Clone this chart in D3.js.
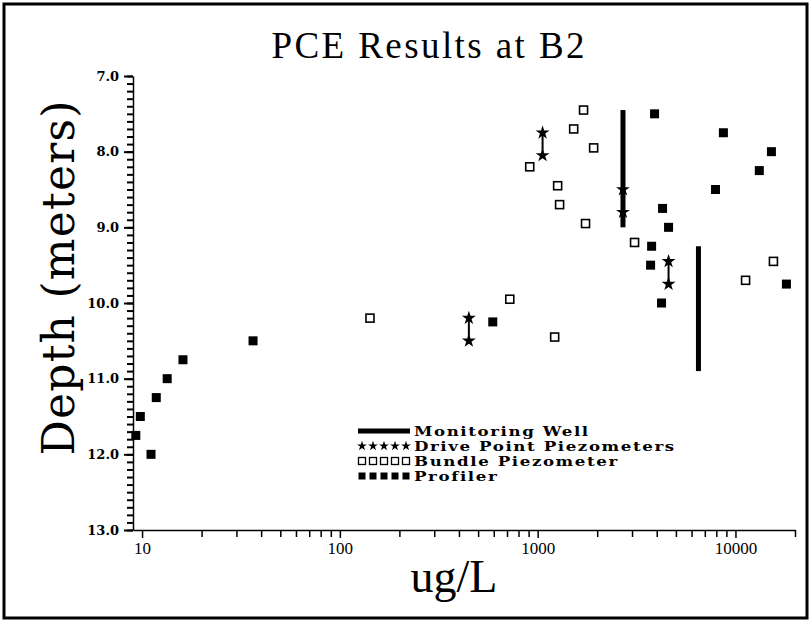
<!DOCTYPE html>
<meta charset="utf-8">
<style>
body { margin: 0; background: #fff; }
.axis path, .axis line { stroke: #000; }
</style>
<body>
<script src="https://d3js.org/d3.v7.min.js"></script>
<script>
// ---- data (ug/L, depth in meters) ----
var profilerConc  = [9.3, 9.8, 11.1, 11.8, 13.4, 16.1, 36.4, 593, 3724, 3768, 3900, 4230, 4280, 4590, 7925, 8690, 13200, 15200, 18100];
var profilerDepth = [11.75, 11.5, 12.0, 11.25, 11.0, 10.75, 10.5, 10.25, 9.5, 9.25, 7.5, 10.0, 8.75, 9.0, 8.5, 7.75, 8.25, 8.0, 9.75];

var bundleConc  = [142, 723, 912, 1219, 1262, 1291, 1521, 1706, 1746, 1919, 3090, 11250, 15560];
var bundleDepth = [10.2, 9.95, 8.2, 10.45, 8.45, 8.7, 7.7, 7.45, 8.95, 7.95, 9.2, 9.7, 9.45];

// drive point piezometers come in pairs (top, bottom)
var driveConc   = [449, 1059, 2700, 4590];
var driveTop    = [10.2, 7.75, 8.5, 9.45];
var driveBottom = [10.5, 8.05, 8.8, 9.75];

// monitoring wells: screened interval
var wellConc   = [2700, 6500];
var wellTop    = [7.45, 9.25];
var wellBottom = [9.0, 10.9];

var xMajor = [10, 100, 1000, 10000];
var xMinor = [20, 30, 40, 50, 60, 70, 80, 90, 200, 300, 400, 500, 600, 700, 800, 900,
              2000, 3000, 4000, 5000, 6000, 7000, 8000, 9000, 20000];
var yMajor = [7, 8, 9, 10, 11, 12, 13];
var yMinor = d3.range(70, 131).map(function(d) { return d / 10; });

var legendLabels = ["Monitoring Well", "Drive Point Piezometers", "Bundle Piezometer", "Profiler"];

// ---- layout ----
var W = 811, H = 622;
var pLeft = 133, pRight = 795, pTop = 76, pBottom = 530;

var svg = d3.select("body").append("svg")
    .attr("width", W)
    .attr("height", H);

// outer frame
svg.append("rect")
    .attr("x", 4).attr("y", 4)
    .attr("width", W - 8).attr("height", H - 8)
    .attr("fill", "none")
    .attr("stroke", "#000")
    .attr("stroke-width", 3);

var x = d3.scaleLog().domain([9, 20000]).range([pLeft, pRight]);
var y = d3.scaleLinear().domain([7, 13]).range([pTop, pBottom]);

// y axis: minor ticks every 0.1, labelled majors
svg.append("g")
    .attr("class", "axis")
    .attr("transform", "translate(" + pLeft + ",0)")
    .call(d3.axisLeft(y).tickValues(yMinor).tickSize(6).tickSizeOuter(0).tickFormat(""))
    .call(function(g) { g.selectAll(".tick line").attr("stroke-width", 2); g.select(".domain").attr("stroke-width", 1.5); });

svg.append("g")
    .attr("class", "axis")
    .attr("transform", "translate(" + pLeft + ",0)")
    .call(d3.axisLeft(y).tickValues(yMajor).tickSize(9).tickSizeOuter(0).tickPadding(5).tickFormat(d3.format(".1f")))
    .call(function(g) {
      g.select(".domain").remove();
      g.selectAll(".tick line").attr("stroke-width", 2);
      g.selectAll("text")
        .attr("font-family", "DejaVu Serif")
        .attr("font-weight", "bold")
        .attr("font-size", 13)
        .attr("fill", "#000");
    });

// x axis
svg.append("g")
    .attr("class", "axis")
    .attr("transform", "translate(0," + pBottom + ")")
    .call(d3.axisBottom(x).tickValues(xMinor).tickSize(7).tickSizeOuter(0).tickFormat(""))
    .call(function(g) { g.selectAll(".tick line").attr("stroke-width", 1.5); g.select(".domain").attr("stroke-width", 1.5); });

svg.append("g")
    .attr("class", "axis")
    .attr("transform", "translate(0," + pBottom + ")")
    .call(d3.axisBottom(x).tickValues(xMajor).tickSize(8).tickSizeOuter(0).tickPadding(4).tickFormat(d3.format("d")))
    .call(function(g) {
      g.select(".domain").remove();
      g.selectAll(".tick line").attr("stroke-width", 1.5);
      g.selectAll("text")
        .attr("font-family", "Liberation Serif")
        .attr("font-size", 17)
        .attr("fill", "#000");
    });

// titles
svg.append("text")
    .attr("x", 428).attr("y", 58)
    .attr("text-anchor", "middle")
    .attr("font-family", "Liberation Serif")
    .attr("font-size", 37)
    .attr("textLength", 313)
    .attr("lengthAdjust", "spacing")
    .text("PCE Results at B2");

svg.append("text")
    .attr("transform", "translate(74,278) rotate(-90)")
    .attr("text-anchor", "middle")
    .attr("font-family", "DejaVu Serif")
    .attr("font-size", 44)
    .attr("textLength", 355)
    .attr("lengthAdjust", "spacing")
    .text("Depth (meters)");

svg.append("text")
    .attr("x", 454).attr("y", 592)
    .attr("text-anchor", "middle")
    .attr("font-family", "Liberation Serif")
    .attr("font-size", 46)
    .text("ug/L");

// ---- marks ----
var plot = svg.append("g");

// monitoring wells
plot.selectAll(".well")
    .data(wellConc)
    .enter().append("line")
    .attr("x1", function(d) { return x(d); })
    .attr("x2", function(d) { return x(d); })
    .attr("y1", function(d, i) { return y(wellTop[i]); })
    .attr("y2", function(d, i) { return y(wellBottom[i]); })
    .attr("stroke", "#000")
    .attr("stroke-width", 5);

// drive point piezometers
plot.selectAll(".drive")
    .data(driveConc)
    .enter().append("line")
    .attr("x1", function(d) { return x(d); })
    .attr("x2", function(d) { return x(d); })
    .attr("y1", function(d, i) { return y(driveTop[i]); })
    .attr("y2", function(d, i) { return y(driveBottom[i]); })
    .attr("stroke", "#000")
    .attr("stroke-width", 2);

var star = d3.symbol().type(d3.symbolStar).size(60);
var starPts = [];
driveConc.forEach(function(c, i) {
  starPts.push([c, driveTop[i]]);
  starPts.push([c, driveBottom[i]]);
});
plot.selectAll(".star")
    .data(starPts)
    .enter().append("path")
    .attr("d", star)
    .attr("transform", function(d) { return "translate(" + x(d[0]) + "," + y(d[1]) + ")"; })
    .attr("fill", "#000");

// bundle piezometer (open squares)
plot.selectAll(".bundle")
    .data(bundleConc)
    .enter().append("rect")
    .attr("x", function(d) { return x(d) - 4; })
    .attr("y", function(d, i) { return y(bundleDepth[i]) - 4; })
    .attr("width", 8).attr("height", 8)
    .attr("fill", "#fff")
    .attr("stroke", "#000")
    .attr("stroke-width", 1.6);

// profiler (filled squares)
plot.selectAll(".profiler")
    .data(profilerConc)
    .enter().append("rect")
    .attr("x", function(d) { return x(d) - 4.5; })
    .attr("y", function(d, i) { return y(profilerDepth[i]) - 4.5; })
    .attr("width", 9).attr("height", 9)
    .attr("fill", "#000");

// ---- legend ----
var lg = svg.append("g").attr("transform", "translate(358,431)");
var rowH = 15;
var sampleX = d3.range(5).map(function(i) { return 4 + i * 11; });

lg.append("line")
    .attr("x1", 0).attr("x2", 52)
    .attr("y1", 0).attr("y2", 0)
    .attr("stroke", "#000").attr("stroke-width", 5);

lg.selectAll(".lstar").data(sampleX).enter().append("path")
    .attr("d", d3.symbol().type(d3.symbolStar).size(30))
    .attr("transform", function(d) { return "translate(" + d + "," + rowH + ")"; })
    .attr("fill", "#000");

lg.selectAll(".lopen").data(sampleX).enter().append("rect")
    .attr("x", function(d) { return d - 3.5; })
    .attr("y", 2 * rowH - 3.5)
    .attr("width", 7).attr("height", 7)
    .attr("fill", "#fff").attr("stroke", "#000").attr("stroke-width", 1.3);

lg.selectAll(".lfill").data(sampleX).enter().append("rect")
    .attr("x", function(d) { return d - 3.5; })
    .attr("y", 3 * rowH - 3.5)
    .attr("width", 7).attr("height", 7)
    .attr("fill", "#000");

// legend text: small glyph height, stretched wide like the original plot font
lg.selectAll(".ltext").data(legendLabels).enter().append("text")
    .attr("x", 56)
    .attr("y", function(d, i) { return i * rowH + 5; })
    .attr("font-family", "DejaVu Serif")
    .attr("font-weight", "bold")
    .attr("font-size", 12.5)
    .attr("letter-spacing", 1.2)
    .text(function(d) { return d; })
    .each(function() {
      var w = this.getComputedTextLength();
      d3.select(this).attr("textLength", w * 1.33).attr("lengthAdjust", "spacingAndGlyphs");
    });
</script>
</body>
